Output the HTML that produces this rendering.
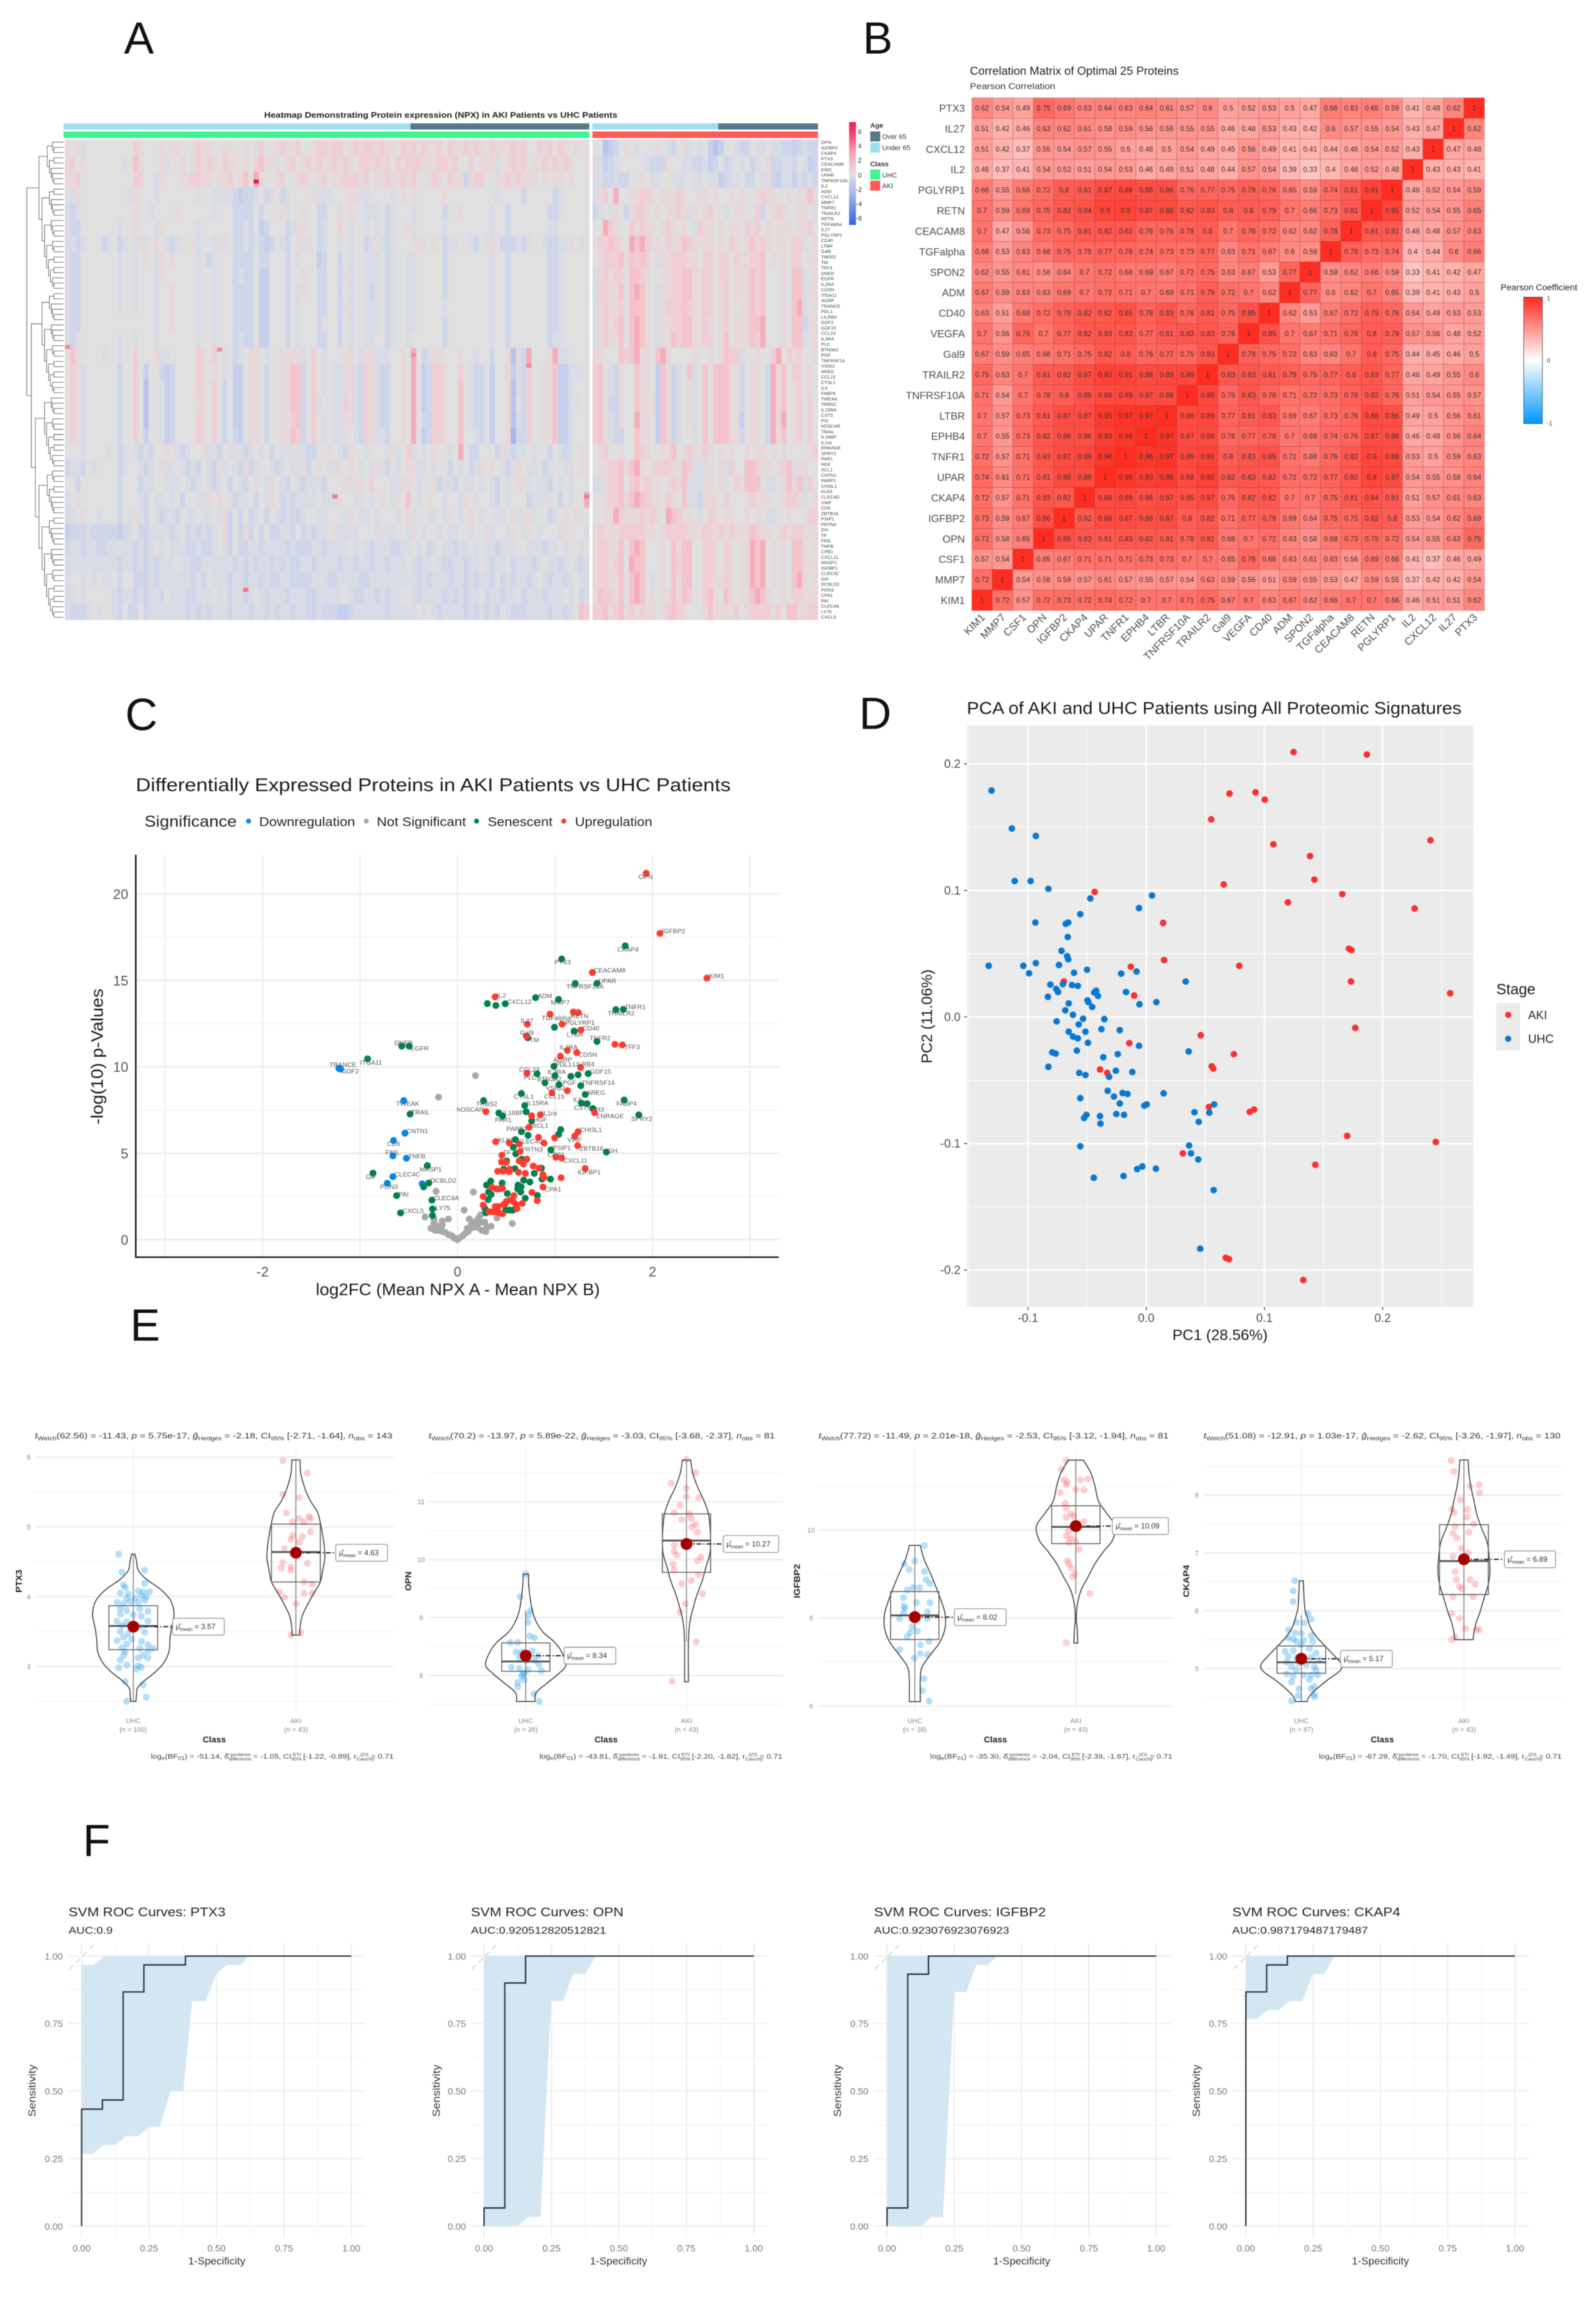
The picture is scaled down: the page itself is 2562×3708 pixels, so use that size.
<!DOCTYPE html>
<html lang="en">
<head>
<meta charset="utf-8">
<title>AKI vs UHC proteomics figure</title>
<style>
html,body{margin:0;padding:0;background:#fff}
svg{display:block;filter:blur(.9px)}
text{font-family:"Liberation Sans",sans-serif}
</style>
</head>
<body>
<svg id="figure" xmlns="http://www.w3.org/2000/svg" width="2562" height="3708" viewBox="0 0 2562 3708">
<defs>
<linearGradient id="heatGrad" x1="0" y1="0" x2="0" y2="1">
<stop offset="0" stop-color="#ee1a50"/><stop offset=".12" stop-color="#f2476f"/><stop offset=".3" stop-color="#f8a3b3"/><stop offset=".51" stop-color="#e0e0e0"/><stop offset=".72" stop-color="#9db0e8"/><stop offset="1" stop-color="#2f62e8"/>
</linearGradient>
<linearGradient id="corrGrad" x1="0" y1="0" x2="0" y2="1">
<stop offset="0" stop-color="#ff2a1f"/><stop offset=".5" stop-color="#ffffff"/><stop offset="1" stop-color="#0097ff"/>
</linearGradient>
</defs>
<rect x="0" y="0" width="2562" height="3708" fill="#fff"/>

<g font-size="72" fill="#111">
<text x="199" y="86">A</text>
<text x="1385" y="86">B</text>
<text x="201" y="1172">C</text>
<text x="1379" y="1170">D</text>
<text x="209" y="2152">E</text>
<text x="133" y="2979">F</text>
</g>

<g id="panelA">
<text x="424" y="189" font-size="13" font-weight="bold" fill="#222" textLength="567" lengthAdjust="spacingAndGlyphs">Heatmap Demonstrating Protein expression (NPX) in AKI Patients vs UHC Patients</text>
<rect x="102" y="198" width="557" height="10" fill="#9fe0ef"/>
<rect x="659" y="198" width="287" height="10" fill="#557a85"/>
<rect x="951" y="198" width="202" height="10" fill="#9fe0ef"/>
<rect x="1153" y="198" width="160" height="10" fill="#557a85"/>
<rect x="102" y="211" width="844" height="10.5" fill="#40f58f"/>
<rect x="951" y="211" width="362" height="10.5" fill="#ff5a55"/>
<rect x="1363" y="196" width="11" height="165" fill="url(#heatGrad)"/>
<g font-size="11" fill="#333">
<text x="1377" y="215">6</text>
<text x="1377" y="238">4</text>
<text x="1377" y="261">2</text>
<text x="1377" y="285">0</text>
<text x="1374" y="308">-2</text>
<text x="1374" y="331">-4</text>
<text x="1374" y="354">-6</text>
</g>
<g font-size="11" fill="#333">
<text x="1397" y="205" font-weight="bold">Age</text>
<rect x="1397" y="211" width="16" height="16" fill="#557a85"/>
<text x="1416" y="223">Over 65</text>
<rect x="1397" y="229" width="16" height="16" fill="#9fe0ef"/>
<text x="1416" y="241">Under 65</text>
<text x="1397" y="267" font-weight="bold">Class</text>
<rect x="1397" y="272" width="16" height="16" fill="#40f58f"/>
<text x="1416" y="285">UHC</text>
<rect x="1397" y="290" width="16" height="16" fill="#ff5a55"/>
<text x="1416" y="302">AKI</text>
</g>
</g>

<g id="panelB">
<text x="1557" y="120" font-size="18" fill="#222" textLength="335" lengthAdjust="spacingAndGlyphs">Correlation Matrix of Optimal 25 Proteins</text>
<text x="1557" y="143" font-size="14" fill="#333" textLength="137" lengthAdjust="spacingAndGlyphs">Pearson Correlation</text>
<text x="2409" y="466" font-size="14" fill="#222" textLength="123" lengthAdjust="spacingAndGlyphs">Pearson Coefficient</text>
<rect x="2446" y="477" width="30" height="203" fill="url(#corrGrad)" stroke="#555" stroke-width="1"/>
<text x="2483" y="482" font-size="10" fill="#333">1</text>
<text x="2483" y="582" font-size="10" fill="#333">0</text>
<text x="2483" y="683" font-size="10" fill="#333">-1</text>
</g>

<g id="panelC">
<text x="218" y="1270" font-size="30" fill="#1a1a1a" textLength="955" lengthAdjust="spacingAndGlyphs">Differentially Expressed Proteins in AKI Patients vs UHC Patients</text>
<g fill="#222">
<text x="232" y="1327" font-size="25" textLength="148" lengthAdjust="spacingAndGlyphs">Significance</text>
<circle cx="399" cy="1318" r="4" fill="#0088ee"/>
<text x="416" y="1326" font-size="20" textLength="154" lengthAdjust="spacingAndGlyphs">Downregulation</text>
<circle cx="588" cy="1318" r="4" fill="#a8a8a8"/>
<text x="605" y="1326" font-size="20" textLength="143" lengthAdjust="spacingAndGlyphs">Not Significant</text>
<circle cx="765" cy="1318" r="4" fill="#00804c"/>
<text x="783" y="1326" font-size="20" textLength="104" lengthAdjust="spacingAndGlyphs">Senescent</text>
<circle cx="905" cy="1318" r="4" fill="#ff3b30"/>
<text x="923" y="1326" font-size="20" textLength="124" lengthAdjust="spacingAndGlyphs">Upregulation</text>
</g>
<text x="507" y="2079" font-size="27" fill="#1a1a1a" textLength="456" lengthAdjust="spacingAndGlyphs">log2FC (Mean NPX A - Mean NPX B)</text>
<text transform="translate(165 1805) rotate(-90)" font-size="27" fill="#1a1a1a" textLength="218" lengthAdjust="spacingAndGlyphs">-log(10) p-Values</text>
</g>

<g id="panelD">
<text x="1552" y="1146" font-size="28" fill="#1a1a1a" textLength="794" lengthAdjust="spacingAndGlyphs">PCA of AKI and UHC Patients using All Proteomic Signatures</text>
<text x="1882" y="2151" font-size="24" fill="#1a1a1a" textLength="153" lengthAdjust="spacingAndGlyphs">PC1 (28.56%)</text>
<text transform="translate(1496 1707) rotate(-90)" font-size="24" fill="#1a1a1a" textLength="151" lengthAdjust="spacingAndGlyphs">PC2 (11.06%)</text>
<text x="2402" y="1596" font-size="24" fill="#1a1a1a">Stage</text>
<rect x="2402" y="1610" width="38" height="76" fill="#ebebeb"/>
<circle cx="2421" cy="1629" r="5" fill="#fb2f2f"/>
<circle cx="2421" cy="1667.5" r="5" fill="#0a78d0"/>
<text x="2453" y="1636" font-size="19" fill="#222">AKI</text>
<text x="2453" y="1674" font-size="19" fill="#222">UHC</text>
</g>

<g id="panelE" fill="#333">
<text x="56" y="2309" font-size="13" textLength="574" lengthAdjust="spacingAndGlyphs"><tspan font-style="italic">t</tspan><tspan dy="3" font-size="9">Welch</tspan><tspan dy="-3">(62.56) = -11.43, </tspan><tspan font-style="italic">p</tspan> = 5.75e-17, <tspan font-style="italic">g&#770;</tspan><tspan dy="3" font-size="9">Hedges</tspan><tspan dy="-3"> = -2.18, CI</tspan><tspan dy="3" font-size="9">95%</tspan><tspan dy="-3"> [-2.71, -1.64], </tspan><tspan font-style="italic">n</tspan><tspan dy="3" font-size="9">obs</tspan><tspan dy="-3"> = 143</tspan></text>
<text x="688" y="2309" font-size="13" textLength="556" lengthAdjust="spacingAndGlyphs"><tspan font-style="italic">t</tspan><tspan dy="3" font-size="9">Welch</tspan><tspan dy="-3">(70.2) = -13.97, </tspan><tspan font-style="italic">p</tspan> = 5.89e-22, <tspan font-style="italic">g&#770;</tspan><tspan dy="3" font-size="9">Hedges</tspan><tspan dy="-3"> = -3.03, CI</tspan><tspan dy="3" font-size="9">95%</tspan><tspan dy="-3"> [-3.68, -2.37], </tspan><tspan font-style="italic">n</tspan><tspan dy="3" font-size="9">obs</tspan><tspan dy="-3"> = 81</tspan></text>
<text x="1314" y="2309" font-size="13" textLength="562" lengthAdjust="spacingAndGlyphs"><tspan font-style="italic">t</tspan><tspan dy="3" font-size="9">Welch</tspan><tspan dy="-3">(77.72) = -11.49, </tspan><tspan font-style="italic">p</tspan> = 2.01e-18, <tspan font-style="italic">g&#770;</tspan><tspan dy="3" font-size="9">Hedges</tspan><tspan dy="-3"> = -2.53, CI</tspan><tspan dy="3" font-size="9">95%</tspan><tspan dy="-3"> [-3.12, -1.94], </tspan><tspan font-style="italic">n</tspan><tspan dy="3" font-size="9">obs</tspan><tspan dy="-3"> = 81</tspan></text>
<text x="1932" y="2309" font-size="13" textLength="573" lengthAdjust="spacingAndGlyphs"><tspan font-style="italic">t</tspan><tspan dy="3" font-size="9">Welch</tspan><tspan dy="-3">(51.08) = -12.91, </tspan><tspan font-style="italic">p</tspan> = 1.03e-17, <tspan font-style="italic">g&#770;</tspan><tspan dy="3" font-size="9">Hedges</tspan><tspan dy="-3"> = -2.62, CI</tspan><tspan dy="3" font-size="9">95%</tspan><tspan dy="-3"> [-3.26, -1.97], </tspan><tspan font-style="italic">n</tspan><tspan dy="3" font-size="9">obs</tspan><tspan dy="-3"> = 130</tspan></text>
<text x="242" y="2823" font-size="11" fill="#444" textLength="390" lengthAdjust="spacingAndGlyphs">log<tspan dy="2" font-size="8">e</tspan><tspan dy="-2">(BF</tspan><tspan dy="2" font-size="8">01</tspan><tspan dy="-2">) = -51.14, &#948;&#770;</tspan><tspan dy="3" font-size="7">difference</tspan><tspan dy="-7" dx="-28" font-size="7">posterior</tspan><tspan dy="4"> = -1.05, CI</tspan><tspan dy="3" font-size="7">95%</tspan><tspan dy="-7" dx="-12" font-size="7">ETI</tspan><tspan dy="4"> [-1.22, -0.89], r</tspan><tspan dy="3" font-size="7">Cauchy</tspan><tspan dy="-7" dx="-20" font-size="7">JZS</tspan><tspan dy="4"> = 0.71</tspan></text>
<text x="866" y="2823" font-size="11" fill="#444" textLength="390" lengthAdjust="spacingAndGlyphs">log<tspan dy="2" font-size="8">e</tspan><tspan dy="-2">(BF</tspan><tspan dy="2" font-size="8">01</tspan><tspan dy="-2">) = -43.81, &#948;&#770;</tspan><tspan dy="3" font-size="7">difference</tspan><tspan dy="-7" dx="-28" font-size="7">posterior</tspan><tspan dy="4"> = -1.91, CI</tspan><tspan dy="3" font-size="7">95%</tspan><tspan dy="-7" dx="-12" font-size="7">ETI</tspan><tspan dy="4"> [-2.20, -1.62], r</tspan><tspan dy="3" font-size="7">Cauchy</tspan><tspan dy="-7" dx="-20" font-size="7">JZS</tspan><tspan dy="4"> = 0.71</tspan></text>
<text x="1493" y="2823" font-size="11" fill="#444" textLength="389" lengthAdjust="spacingAndGlyphs">log<tspan dy="2" font-size="8">e</tspan><tspan dy="-2">(BF</tspan><tspan dy="2" font-size="8">01</tspan><tspan dy="-2">) = -35.30, &#948;&#770;</tspan><tspan dy="3" font-size="7">difference</tspan><tspan dy="-7" dx="-28" font-size="7">posterior</tspan><tspan dy="4"> = -2.04, CI</tspan><tspan dy="3" font-size="7">95%</tspan><tspan dy="-7" dx="-12" font-size="7">ETI</tspan><tspan dy="4"> [-2.39, -1.67], r</tspan><tspan dy="3" font-size="7">Cauchy</tspan><tspan dy="-7" dx="-20" font-size="7">JZS</tspan><tspan dy="4"> = 0.71</tspan></text>
<text x="2117" y="2823" font-size="11" fill="#444" textLength="390" lengthAdjust="spacingAndGlyphs">log<tspan dy="2" font-size="8">e</tspan><tspan dy="-2">(BF</tspan><tspan dy="2" font-size="8">01</tspan><tspan dy="-2">) = -67.29, &#948;&#770;</tspan><tspan dy="3" font-size="7">difference</tspan><tspan dy="-7" dx="-28" font-size="7">posterior</tspan><tspan dy="4"> = -1.70, CI</tspan><tspan dy="3" font-size="7">95%</tspan><tspan dy="-7" dx="-12" font-size="7">ETI</tspan><tspan dy="4"> [-1.92, -1.49], r</tspan><tspan dy="3" font-size="7">Cauchy</tspan><tspan dy="-7" dx="-20" font-size="7">JZS</tspan><tspan dy="4"> = 0.71</tspan></text>
</g>

<g id="panelF"></g>
</svg>

<script>
/* ---------- Panel A: heatmap, coarse-grained into 30 row bands ---------- */
const heatLevels = [-2.2,-1.6,-1.1,-0.7,-0.3,0,0.35,0.7,1.15,1.9];
const heatmapUhcRows = [
"6564555555 5557655565 6655676655 6655654755 6766755677 6775676776 7665767676 6757667676 5766676755 7675765655",
"6756555555 5458655564 5565676765 7665657866 4567567676 6767657767 6757677766 6776755756 6645676756 6767676556",
"6675555555 5557755465 5566776656 6756859655 6755676567 5667776756 6766767556 7657663677 5566767666 5656656555",
"5465555555 5546555455 5555545544 4432334536 5345555644 4555664455 5545656555 5565555555 5545555355 5553455555",
"4345555555 5556554555 5655555545 5533335355 5645565533 5545655444 5345554555 5535565555 5455355555 5533455555",
"4335555555 4556555465 5555545555 5533435235 5534665534 5575455454 5345564555 5545555555 5455355555 5544555555",
"4434555345 3454645654 3455645546 4533434323 5435646534 5545455346 4345556645 6534455435 4653334345 5433446545",
"4335555555 4554565465 6555545345 5533335335 5535455523 5535455444 5345544555 5535555555 5455355555 5533455555",
"4335555555 4554555465 5555545545 5534335225 5535565533 5536455444 5345544555 5535555555 5455355555 5533455555",
"4335555555 4554555455 6555545545 5533335225 5535465533 5535455434 5345544555 5535555555 5455355555 5533455555",
"4335555555 4554555455 6555545545 5533335225 5535455533 5536455444 5345544555 5545555555 5455355555 5533455555",
"4335555555 5555555455 6555545545 5533335225 5535455536 5535455444 5345544555 5535555555 5455355555 5533455555",
"4345555555 4554555455 5555545545 5534335225 5535455533 5535455445 5345545555 5535555555 5455355555 5534455555",
"5865555455 4557555644 5555576575 4534566545 5666645754 5556654664 4455659534 6655565545 5355616395 5569445555",
"5764555555 3557525532 3555576565 4522566535 5668835754 5446643764 3355659523 7765575433 5255624375 5668224445",
"5764555555 3557515542 3555576575 3522566535 5668835754 5446643764 3355659523 7765585433 5255614375 5668224555",
"5764555555 3557515542 3555566575 3522566535 5668835745 5447643764 3355659523 7765585433 5255615375 5668224455",
"5764555555 3557515542 3555576575 3522566535 5667835754 5446643764 3355659533 7765585433 5255614375 5668224555",
"5764555555 3557525542 3555576575 3532566535 5668735754 5446543764 4355659523 7765585543 5255603375 5668224555",
"5554555545 3454343556 5434556443 5464345453 5446443355 6543655455 5464574545 6554595335 5536434454 5535434565",
"3443545555 3455434564 4543435436 4543634554 3454463565 4465654546 4354566445 4553545346 5654346544 5345546565",
"5535555555 3555344554 4454345434 5354356546 5435434443 5556466575 5544665455 6344354454 5435456645 4435454555",
"4565555555 3555435445 4535544656 5634453546 5343444454 4465544545 6546585456 5545546545 5435455534 4645354559",
"4456554555 3546435434 4354454454 6353534535 4343345544 5554654454 5554564554 4546545654 5544564664 5534565645",
"2333433333 2345334444 3453434345 6353635353 3443534344 5644445554 6445546545 5454455455 6455465465 4555465554",
"3443443344 4443434545 4443343345 4353344344 4434333443 4444545434 4433445453 4544344545 4434445544 4344545545",
"4444444444 3443434344 4544334444 4434343443 4343344344 4434434434 4344454344 5433443445 4344534443 4544345434",
"4554545445 3553334344 4444343544 4344344343 3443333444 3344443344 4444444343 4443443434 4353434434 5434434544",
"4454555554 3443434435 4443344454 5344345434 4434443344 4445433443 4344554344 4434343445 3443445344 4344454534",
"4333454554 3533534444 4443434344 4344434434 3443443343 3322344444 4344444545 4344443434 3435433344 4434434587"
];
const heatmapAkiRows = [
"5512356545 5565435645 4521255433 5445443323 433",
"4423455555 4333655443 3423534545 3456334435 423",
"4433433556 5445544454 4544234453 3544324424 343",
"4675955667 7656667655 6656556565 5676655656 686",
"3454653677 6565667646 5675545665 5735676556 654",
"5597655767 6656765654 7665656657 6756566656 675",
"5778765989 7665766876 6665657656 8676566577 456",
"5677786878 7546677766 5775775766 7785656577 566",
"4676775887 6556677886 6775775666 8785556588 456",
"4776685898 6546677886 6775675666 8785556588 466",
"4676675888 6546777876 6775675566 8785556589 456",
"4676785898 6546677886 6765675666 8895556588 366",
"4676685898 6546687886 6775685666 8795556588 456",
"6655587896 6589655556 5565687745 5655795767 556",
"7854365586 6528634584 5858886635 6653968577 565",
"7854365586 6528634564 5858886635 6653968567 565",
"7853365586 6628634564 5858886635 6653968567 575",
"7854365596 6528634564 5858886625 6653969567 575",
"7864335586 6528634554 5858886635 6653968567 575",
"5675565587 6556685676 6765656556 5665654555 567",
"5667786896 5677766874 4465647558 8766567846 655",
"4467785786 7665676844 4665645768 8854456868 475",
"5567786898 7665765844 3666575556 7666556776 456",
"5566976667 6765987665 4576566556 5654455655 577",
"6766677777 6656777766 6776767666 8766567677 666",
"6776685898 5556586885 5776576566 9895656588 656",
"6776785988 5556587885 5776576566 9895656588 666",
"6776685898 5456586885 5776676566 9895656589 656",
"6877685898 5656686875 5786586566 8986556577 666",
"7786786767 6656787655 5686666756 7777675886 677"
];
const heatHotColumns = [36,34,51,99,0,29,66,88];
const heatHotRows = [15,168,133,133,77,78,80,84];
const heatHotValues = [6,3.6,3.6,3.6,3,3,3,3.2];

/* ---------- Panel B: correlation matrix ---------- */
const corrRowLabels = ["PTX3","IL27","CXCL12","IL2","PGLYRP1","RETN","CEACAM8","TGFalpha","SPON2","ADM","CD40","VEGFA","Gal9","TRAILR2","TNFRSF10A","LTBR","EPHB4","TNFR1","UPAR","CKAP4","IGFBP2","OPN","CSF1","MMP7","KIM1"];
const corrColLabels = ["KIM1","MMP7","CSF1","OPN","IGFBP2","CKAP4","UPAR","TNFR1","EPHB4","LTBR","TNFRSF10A","TRAILR2","Gal9","VEGFA","CD40","ADM","SPON2","TGFalpha","CEACAM8","RETN","PGLYRP1","IL2","CXCL12","IL27","PTX3"];
const corrValues = [
[0.62,0.54,0.49,0.75,0.69,0.63,0.64,0.63,0.64,0.61,0.57,0.6,0.5,0.52,0.53,0.5,0.47,0.66,0.63,0.65,0.59,0.41,0.48,0.62,1],
[0.51,0.42,0.46,0.63,0.62,0.61,0.58,0.59,0.56,0.56,0.55,0.55,0.46,0.48,0.53,0.43,0.42,0.6,0.57,0.55,0.54,0.43,0.47,1,0.62],
[0.51,0.42,0.37,0.55,0.54,0.57,0.55,0.5,0.48,0.5,0.54,0.49,0.45,0.56,0.49,0.41,0.41,0.44,0.48,0.54,0.52,0.43,1,0.47,0.48],
[0.46,0.37,0.41,0.54,0.53,0.51,0.54,0.53,0.46,0.49,0.51,0.48,0.44,0.57,0.54,0.39,0.33,0.4,0.48,0.52,0.48,1,0.43,0.43,0.41],
[0.66,0.55,0.66,0.72,0.8,0.81,0.87,0.88,0.86,0.86,0.76,0.77,0.75,0.79,0.76,0.65,0.59,0.74,0.81,0.91,1,0.48,0.52,0.54,0.59],
[0.7,0.59,0.69,0.75,0.82,0.84,0.9,0.9,0.87,0.88,0.82,0.83,0.8,0.8,0.79,0.7,0.66,0.73,0.81,1,0.91,0.52,0.54,0.55,0.65],
[0.7,0.47,0.56,0.73,0.75,0.81,0.82,0.82,0.76,0.76,0.78,0.8,0.7,0.76,0.72,0.62,0.62,0.78,1,0.81,0.81,0.48,0.48,0.57,0.63],
[0.66,0.53,0.63,0.68,0.75,0.75,0.77,0.76,0.74,0.73,0.73,0.77,0.63,0.71,0.67,0.6,0.59,1,0.78,0.73,0.74,0.4,0.44,0.6,0.66],
[0.62,0.55,0.61,0.58,0.64,0.7,0.72,0.68,0.69,0.67,0.72,0.75,0.63,0.67,0.53,0.77,1,0.59,0.62,0.66,0.59,0.33,0.41,0.42,0.47],
[0.67,0.59,0.63,0.63,0.69,0.7,0.72,0.71,0.7,0.69,0.71,0.79,0.72,0.7,0.62,1,0.77,0.6,0.62,0.7,0.65,0.39,0.41,0.43,0.5],
[0.63,0.51,0.68,0.72,0.78,0.82,0.82,0.85,0.78,0.83,0.76,0.81,0.75,0.85,1,0.62,0.53,0.67,0.72,0.79,0.76,0.54,0.49,0.53,0.53],
[0.7,0.56,0.76,0.7,0.77,0.82,0.83,0.83,0.77,0.81,0.83,0.83,0.78,1,0.85,0.7,0.67,0.71,0.76,0.8,0.79,0.57,0.56,0.48,0.52],
[0.67,0.59,0.65,0.68,0.71,0.75,0.82,0.8,0.76,0.77,0.75,0.83,1,0.78,0.75,0.72,0.63,0.63,0.7,0.8,0.75,0.44,0.45,0.46,0.5],
[0.75,0.63,0.7,0.81,0.82,0.87,0.92,0.91,0.88,0.89,0.89,1,0.83,0.83,0.81,0.79,0.75,0.77,0.8,0.83,0.77,0.48,0.49,0.55,0.6],
[0.71,0.54,0.7,0.78,0.8,0.85,0.88,0.89,0.87,0.88,1,0.89,0.75,0.83,0.76,0.71,0.72,0.73,0.78,0.82,0.76,0.51,0.54,0.55,0.57],
[0.7,0.57,0.73,0.81,0.87,0.87,0.95,0.97,0.97,1,0.88,0.89,0.77,0.81,0.83,0.69,0.67,0.73,0.76,0.88,0.86,0.49,0.5,0.56,0.61],
[0.7,0.55,0.73,0.82,0.86,0.86,0.93,0.96,1,0.97,0.87,0.88,0.76,0.77,0.78,0.7,0.69,0.74,0.76,0.87,0.86,0.46,0.48,0.56,0.64],
[0.72,0.57,0.71,0.83,0.87,0.89,0.96,1,0.96,0.97,0.89,0.91,0.8,0.83,0.85,0.71,0.68,0.76,0.82,0.9,0.88,0.53,0.5,0.59,0.63],
[0.74,0.61,0.71,0.81,0.88,0.88,1,0.96,0.93,0.95,0.88,0.92,0.82,0.83,0.82,0.72,0.72,0.77,0.82,0.9,0.87,0.54,0.55,0.58,0.64],
[0.72,0.57,0.71,0.83,0.82,1,0.88,0.89,0.86,0.87,0.85,0.87,0.75,0.82,0.82,0.7,0.7,0.75,0.81,0.84,0.81,0.51,0.57,0.61,0.63],
[0.73,0.59,0.67,0.86,1,0.82,0.88,0.87,0.86,0.87,0.8,0.82,0.71,0.77,0.78,0.69,0.64,0.75,0.75,0.82,0.8,0.53,0.54,0.62,0.69],
[0.72,0.58,0.65,1,0.86,0.83,0.81,0.83,0.82,0.81,0.78,0.81,0.68,0.7,0.72,0.63,0.58,0.68,0.73,0.75,0.72,0.54,0.55,0.63,0.75],
[0.57,0.54,1,0.65,0.67,0.71,0.71,0.71,0.73,0.73,0.7,0.7,0.65,0.76,0.68,0.63,0.61,0.63,0.56,0.69,0.66,0.41,0.37,0.46,0.49],
[0.72,1,0.54,0.58,0.59,0.57,0.61,0.57,0.55,0.57,0.54,0.63,0.59,0.56,0.51,0.59,0.55,0.53,0.47,0.59,0.55,0.37,0.42,0.42,0.54],
[1,0.72,0.57,0.72,0.73,0.72,0.74,0.72,0.7,0.7,0.71,0.75,0.67,0.7,0.63,0.67,0.62,0.66,0.7,0.7,0.66,0.46,0.51,0.51,0.62]
];

/* ---------- Panel C: volcano ---------- */
const volcanoUpX = [1.935,2.076,2.558,1.382,.385,.949,1.188,1.239,.715,1.072,1.264,.706,1.615,1.69,1.126,1.222,1.055,1.262,.712,.968,1.126,.291,.849,.76,1.405,.734,1.236,1.203,.83,.996,.391,.53,.632,.887,1.232,.642,1.008,1.068,.455,.451,.497,.71,.632,.674,.776,.834,1.309,.412,.465,.535,.53,.625,.695,.876,.887,1.062,.876,.35,.397,.429,.461,.763,.263,.578,.817,.263,.536,.568,.503,.6,.663,.472,.387,.418,.323,.365,.408,.461,.61,.418];
const volcanoUpY = [21.2,17.72,15.13,15.46,14.05,13.05,13.17,13.14,12.47,12.47,12.13,11.77,11.3,11.27,10.95,10.83,10.62,9.97,9.63,8.5,8.62,7.41,7.23,7.17,7.35,6.51,6.25,6.0,5.92,5.89,5.67,5.59,5.53,5.59,5.44,5.11,4.77,4.72,4.89,4.5,4.47,4.66,4.56,4.38,4.26,4.14,4.12,3.96,3.96,4.08,3.93,3.9,3.84,3.76,3.6,3.58,3.05,3.04,2.94,2.94,2.98,2.73,2.5,2.55,2.26,2.0,2.28,2.22,2.22,2.04,2.1,2.04,1.92,1.92,1.62,1.62,1.62,1.5,1.8,1.56];
const volcanoSenX = [1.72,1.068,1.207,1.43,.8,1.036,.489,.393,.306,1.624,1.7,.994,1.196,.72,1.43,-.572,-.497,.989,.815,1,1.162,1.237,1.34,.896,1.04,1.264,.655,1.309,1.709,.267,1.27,1.328,.689,1.388,.704,.423,.461,1.859,-.487,.76,1.058,1.036,.655,.723,.593,.572,.597,.957,1.526,.504,.657,.861,.589,.472,.787,.866,.953,.678,.742,.34,.457,.297,.62,.652,.617,.648,.319,.51,.344,.819,.694,.314,.483,.493,.536,.568,.28,.29,-.31,-.295,-.348,-.625,-.263,-.257,-.257,-.585,-.867,-.923];
const volcanoSenY = [17,16.24,14.82,14.83,14,13.9,13.65,13.55,13.66,13.31,13.32,12.29,12.07,11.68,11.47,11.2,11.2,10.03,9.6,9.49,9.45,9.54,9.61,9.08,8.97,8.91,8.46,8.4,8.08,8.05,7.9,7.87,7.76,7.59,7.4,7.33,7.15,7.22,7.27,6.87,6.37,6.09,6.25,6.04,5.79,5.35,4.97,5.2,5.07,4.56,4.66,4.14,4.11,4.08,3.84,3.51,3.51,3.45,3.34,3.39,3.28,3.16,3.16,3.06,2.94,2.76,2.76,2.67,2.62,2.56,2.4,2.32,2.04,1.71,1.71,1.71,1.8,1.56,4.29,3.28,3.06,2.55,2.29,1.78,1.4,1.55,3.85,10.46];
const volcanoDownX = [-1.218,-1.2,-.552,-.54,-.657,-.663,-.525,-.663,-.721,-.363];
const volcanoDownY = [9.92,9.87,8.05,6.16,5.74,4.85,4.71,3.65,3.27,3.24];
const volcanoNsX = [.184,-.195,-.22,.163,.067,-.333,.561,.404,0,-.02,-.04,.025,.056,-.06,-.093,.078,-.125,-.157,.11,.131,.1,-.2,-.231,-.274,-.157,-.22,-.242,-.157,-.093,-.242,.12,.163,.142,.184,.205,.237,.216,.248,.28,.3,.344,.248,.29,.163,.205];
const volcanoNsY = [9.49,8.25,2.8,2.76,1.71,1.32,.94,1.26,0,.06,.12,.12,.24,.24,.3,.36,.42,.48,.48,.66,.66,.54,.54,.66,.84,.84,.96,1.08,1.2,1.2,1.2,1.02,.9,.84,1.14,1.44,1.26,1.02,1.02,.72,.78,.54,.48,.72,.72];
const volcanoLabelNames = ["OPN","IGFBP2","CKAP4","PTX3","CEACAM8","KIM1","UPAR","TNFRSF10A","IL2","ADM","CXCL12","MMP7","TNFR1","TRAILR2","RETN","TGFalpha","IL27","PGLYRP1","CD40","LTBR","Gal9","TNFR2","TM","TFF3","DNER","EGFR","IL2RA","CDSN","ITGA11","AGRP","TRANCE","PDL1","LILRB4","GDF2","GDF15","CCL23","IL3RA","PLC","BTN3A2","PGF","TNFRSF14","VSIG2","AREG","CCL15","CTSL1","IL6","FABP4","TWEAK","TRBS2","IL15RA","CST5","PI3","hOSCAR","TRAIL","IL18BP","IL1ra","ENRAGE","SPRY2","PAR1","HGF","XCL1","CNTN1","PARP1","CHI3L1","KLK6","CLEC4D","VWF","CD6","ZBTB16","PSIP1","PRTN3","GH","TF","Flt3L","TNFB","CPB1","CXCL11","MASP1","IGFBP1","CLEC4C","GIF","DCBLD2","PON3","CPA1","PAI","CLEC4A","LY75","CXCL5"];
const volcanoLabelX = [1.93,2.216,1.748,1.078,1.56,2.657,1.537,1.307,.45,.895,.633,1.054,1.823,1.678,1.251,1.012,.712,1.256,1.368,1.204,.712,1.462,.787,1.79,-.553,-.389,1.139,1.336,-.886,1.078,-1.176,1.087,1.293,-1.101,1.467,.736,1.017,.745,.942,1.148,1.443,1.003,1.42,.993,.679,1.23,1.734,-.511,.3,.82,1.28,1.453,.131,-.38,.572,.942,1.565,1.889,.469,.848,.848,-.412,.609,1.368,.497,.745,1.2,-.656,1.373,1.068,.764,1.589,.506,-.665,-.417,1.012,1.209,-.276,1.35,-.515,-.886,-.145,-.703,.979,-.553,-.117,-.15,-.455];
const volcanoLabelY = [21,17.85,16.79,16.05,15.59,15.26,14.97,14.64,14.12,14.1,13.77,13.73,13.46,13.1,12.94,12.82,12.67,12.55,12.24,11.86,11.99,11.66,11.55,11.16,11.39,11.06,11.14,10.7,10.25,10.41,10.12,10.14,10.17,9.75,9.73,9.83,9.71,9.38,9.3,9.09,9.09,8.78,8.51,8.28,8.28,8.1,7.87,7.87,7.85,7.91,7.64,7.54,7.54,7.37,7.33,7.31,7.16,7,6.94,6.96,6.6,6.29,6.42,6.36,5.76,5.69,5.78,5.55,5.28,5.32,5.22,5.16,5.05,5.05,4.82,4.91,4.58,4.08,3.91,3.79,3.64,3.42,3.06,2.92,2.63,2.42,1.84,1.68];
const volcanoXTicks = [-2,0,2];
const volcanoXGrid = [-3,-2,-1,0,1,2,3];
const volcanoYTicks = [0,5,10,15,20];
const volcanoYMinor = [2.5,7.5,12.5,17.5];

/* ---------- Panel D: PCA ---------- */
const pcaAkiPc1 = [.1247,.1867,.0705,.0925,.1003,.055,.1076,.2405,.1386,.1423,.0656,.1659,.1199,.2271,-.0436,.0143,.1716,.1737,.0151,.0787,-.013,.1733,-.0697,.2572,-.0102,.1769,.0461,-.0143,.0742,.0554,.0567,-.0391,-.033,.053,.0876,.0913,.17,.245,.031,.1431,.0673,.0701,.1329];
const pcaAkiPc2 = [.2093,.2073,.1765,.1775,.1717,.1561,.1364,.1396,.1271,.1085,.1047,.0971,.0905,.0857,.0988,.0743,.0539,.0528,.0449,.0404,.0397,.028,.028,.0187,.0169,-.0086,-.0145,-.0207,-.0294,-.039,-.0408,-.0415,-.0442,-.0712,-.075,-.0732,-.094,-.0988,-.1078,-.1168,-.1903,-.1914,-.2079];
const pcaUhcPc1 = [-.1309,-.1137,-.0934,-.1113,-.0978,-.0828,-.0473,.0049,-.0061,-.0558,-.0938,-.0681,-.066,-.0664,-.0717,-.0669,-.066,-.1333,-.104,-.0934,-.0738,-.0991,-.0611,-.0501,-.0212,-.0082,.0334,-.0811,-.0705,-.0628,-.0579,-.0762,-.0746,-.0424,-.044,-.0408,-.0171,-.0832,-.0497,-.0489,-.0656,-.0457,-.0057,.0086,-.0685,-.062,-.0534,-.0355,-.0758,-.0571,-.0656,-.0514,-.0379,-.0224,-.062,-.0579,-.0493,-.0061,-.0587,-.0795,-.0766,.0359,-.0241,-.0363,-.0828,-.0567,-.0514,-.0257,-.0118,-.0314,-.0326,-.02,-.0159,-.0273,.0147,-.0558,-.0224,.0004,-.0016,.0575,.0408,.0534,-.0253,-.0188,-.0506,-.0526,-.0391,-.0387,.0444,-.0558,.0363,.0379,.044,-.0033,-.0077,.0082,-.0444,-.0192,.0571,.0457];
const pcaUhcPc2 = [.1789,.1489,.143,.1074,.1074,.1012,.0936,.096,.086,.0812,.0746,.0736,.0746,.0632,.0522,.048,.0456,.0404,.0404,.0425,.0411,.0345,.0349,.0373,.0342,.0359,.028,.0256,.0259,.0252,.0245,.0221,.0197,.0207,.0193,.0166,.0197,.0159,.0131,.0117,.0107,.0079,.01,.0117,.0052,.0017,-.0014,-.0017,-.0035,-.0059,-.0117,-.0117,-.0097,-.0104,-.0155,-.0169,-.0204,-.0228,-.0266,-.028,-.029,-.0273,-.0294,-.0318,-.0394,-.0442,-.0459,-.0425,-.0435,-.0473,-.0584,-.0601,-.0608,-.0629,-.0604,-.0642,-.0684,-.0691,-.0701,-.0691,-.0753,-.0756,-.0767,-.0774,-.0774,-.0798,-.0784,-.0843,-.0829,-.1022,-.1016,-.1078,-.1126,-.1181,-.1202,-.1199,-.1271,-.1257,-.1368,-.1831];
const pcaXTicks = [-0.1,0,0.1,0.2];
const pcaXMinor = [-0.15,-0.05,0.05,0.15,0.25];
const pcaYTicks = [-0.2,-0.1,0,0.1,0.2];
const pcaYMinor = [-0.15,-0.05,0.05,0.15];

/* ---------- Panel E: violins ---------- */
const ptx3UhcJitter = [-.09,-.07,.07,.07,-.06,-.05,-.08,-.03,.03,.06,.1,.05,.08,-.04,.01,-.1,-.06,-.02,.03,.07,-.08,-.04,.04,.09,-.08,0,.05,-.1,-.04,.09,-.07,.04,-.08,-.03,.07,-.06,-.1,-.01,.05,-.04,.09,-.07,.04,.12,-.05,.09,-.06,.06,.03,-.08,.09,-.04,.03,.05,-.09,.02,-.05,.06,.08,-.04];
const ptx3UhcValues = [4.61,4.35,4.38,4.19,4.17,4.13,4.05,4.04,4.08,4.07,4.07,4.01,4,3.98,3.98,3.92,3.9,3.93,3.92,3.95,3.83,3.8,3.82,3.79,3.75,3.74,3.72,3.65,3.64,3.65,3.59,3.57,3.5,3.47,3.49,3.42,3.37,3.39,3.36,3.32,3.31,3.27,3.26,3.26,3.21,3.22,3.16,3.16,3.12,3.09,3.12,3.02,3.01,2.99,2.98,2.96,2.78,2.74,2.56,2.5];
const ptx3UhcViolinY = [4.61,4.51,4.38,4.25,4.12,3.98,3.85,3.72,3.55,3.39,3.22,3.06,2.93,2.79,2.69,2.6,2.5];
const ptx3UhcDensity = [.01,.02,.03,.08,.16,.22,.245,.25,.235,.225,.22,.19,.14,.065,.025,.02,.016];
const ptx3UhcBox = [3.24,3.58,3.87];
const ptx3UhcWhisker = [2.5,4.6];
const ptx3AkiJitter = [-.08,.07,-.08,.02,-.06,.08,.02,.09,-.02,.05,.09,-.02,.04,-.03,.02,-.07,-.01,.07,-.08,-.09,-.03,-.03,.05,.1,-.1,.05,.1,-.07,0,.03,-.03];
const ptx3AkiValues = [5.95,5.77,5.47,5.42,5.2,5.15,5.12,5.12,5.07,5.07,4.93,4.88,4.86,4.82,4.78,4.69,4.64,4.48,4.49,4.41,4.43,4.38,4.21,4.18,4.07,4.05,4.05,3.99,3.9,3.49,3.45];
const ptx3AkiViolinY = [5.96,5.77,5.54,5.37,5.21,5.04,4.88,4.71,4.55,4.38,4.21,4.05,3.88,3.72,3.55,3.45];
const ptx3AkiDensity = [.025,.03,.057,.09,.133,.152,.165,.175,.178,.165,.15,.11,.07,.038,.025,.025];
const ptx3AkiBox = [4.21,4.64,5.04];
const ptx3AkiWhisker = [3.45,5.95];

const opnUhcJitter = [0,-.035,.03,.016,.013,.026,.055,-.096,-.05,-.06,-.026,.04,.077,-.04,.006,.055,.08,-.09,-.04,.013,.096,-.01,-.02,-.026,-.01,-.05,-.05,.05,.084];
const opnUhcValues = [9.75,9.36,9.12,9.04,8.92,8.68,8.65,8.57,8.57,8.4,8.4,8.42,8.34,8.3,8.26,8.26,8.19,8.14,8.12,8.1,8.08,8.04,8.02,7.98,7.92,7.88,7.8,7.68,7.55];
const opnUhcViolinY = [9.75,9.54,9.3,9.1,8.9,8.74,8.58,8.42,8.18,8.02,7.86,7.7,7.55];
const opnUhcDensity = [.016,.019,.029,.042,.07,.11,.177,.22,.25,.2,.13,.064,.058];
const opnUhcBox = [8.07,8.24,8.56];
const opnUhcWhisker = [7.55,9.12];
const opnAkiJitter = [0,.058,-.096,0,0,.074,-.04,-.077,.02,-.03,.03,.058,.035,.068,-.077,.035,-.077,-.06,.09,.068,-.084,-.077,.074,.03,-.03,.1,-.006,-.04,.06,-.09];
const opnAkiValues = [11.73,11.5,11.32,11.23,11.09,11.07,10.94,10.81,10.79,10.69,10.71,10.61,10.57,10.47,10.25,10.3,10.14,10.08,10.04,9.98,9.92,9.82,9.74,9.64,9.58,9.41,9.24,9.09,8.58,7.9];
const opnAkiViolinY = [11.72,11.49,11.25,11.01,10.81,10.61,10.33,10.1,9.86,9.62,9.38,9.14,8.9,8.58,7.89];
const opnAkiDensity = [.026,.039,.07,.11,.135,.145,.15,.145,.12,.096,.064,.039,.02,.012,.012];
const opnAkiBox = [9.78,10.33,10.79];
const opnAkiWhisker = [8.58,11.72];

const igfbp2UhcJitter = [.06,0,-.066,-.034,.06,.07,.094,.03,-.01,-.047,-.07,.094,.01,-.066,-.063,-.07,.078,-.094,.078,-.016,.016,-.03,-.047,.088,.034,-.094,.034,.078,-.003,.056,.047,.088];
const igfbp2UhcValues = [9.65,9.29,9.23,9.1,9.06,8.87,8.78,8.69,8.69,8.64,8.46,8.35,8.35,8.27,8.22,8.12,8.14,7.98,7.99,7.8,7.7,7.67,7.57,7.47,7.39,7.28,7.19,7.17,7.09,6.62,6.35,6.11];
const igfbp2UhcViolinY = [9.65,9.35,9.04,8.72,8.4,8.09,7.77,7.46,7.15,6.88,6.62,6.36,6.1];
const igfbp2UhcDensity = [.034,.056,.094,.13,.163,.188,.188,.157,.094,.044,.034,.034,.034];
const igfbp2UhcBox = [7.51,8.06,8.6];
const igfbp2UhcWhisker = [6.1,9.65];
const igfbp2AkiJitter = [-.06,-.09,-.075,-.053,.03,.075,-.06,0,.05,-.097,-.066,-.06,-.03,-.013,-.06,.05,-.044,-.06,-.03,0,-.044,.02,-.053,-.044,-.03,-.006,-.02,.088,-.06];
const igfbp2AkiValues = [11.58,11.38,11.14,11.09,11.14,11.16,11.03,10.92,10.91,10.85,10.61,10.5,10.37,10.32,10.29,10.19,9.98,9.87,9.82,9.74,9.72,9.56,9.3,9.23,9.14,9.01,8.93,8.55,7.44];
const igfbp2AkiViolinY = [11.59,11.29,10.98,10.66,10.4,10.08,9.76,9.51,9.24,8.93,8.62,8.3,7.99,7.72,7.43];
const igfbp2AkiDensity = [.047,.094,.12,.14,.188,.245,.226,.172,.12,.075,.031,.009,.003,.009,.012];
const igfbp2AkiBox = [9.69,10.07,10.55];
const igfbp2AkiWhisker = [8.55,11.59];

const ckap4UhcJitter = [-.04,-.05,-.05,.04,.06,-.03,.015,-.08,-.04,0,.06,-.08,-.05,-.03,.015,.07,0,-.1,-.05,.05,.09,-.08,-.03,.06,.11,-.09,-.015,.03,-.06,.08,-.03,.09,-.09,-.05,.015,.06,.1,-.06,.05,-.015,.08,.06,.08,.08,-.02,-.06];
const ckap4UhcValues = [6.52,6.34,6.16,5.95,5.86,5.8,5.79,5.67,5.62,5.61,5.57,5.53,5.51,5.47,5.49,5.47,5.41,5.3,5.31,5.35,5.27,5.21,5.19,5.19,5.15,5.11,5.09,5.07,5.03,5.03,4.97,4.97,4.91,4.87,4.89,4.89,4.89,4.77,4.81,4.65,4.69,4.65,4.55,4.51,4.53,4.44];
const ckap4UhcViolinY = [6.52,6.26,6.03,5.87,5.71,5.55,5.39,5.23,5.07,4.95,4.79,4.63,4.51,4.43];
const ckap4UhcDensity = [.012,.016,.022,.037,.056,.093,.146,.2,.248,.233,.155,.087,.047,.037];
const ckap4UhcBox = [4.92,5.11,5.39];
const ckap4UhcWhisker = [4.43,5.93];
const ckap4AkiJitter = [-.078,-.062,.093,.037,.096,-.022,-.075,.022,-.06,.02,.06,-.053,-.068,-.043,.03,-.016,.025,-.068,-.053,.037,-.047,.07,-.028,-.012,-.068,.056,-.075,-.028,.01,.078,.093,-.053,-.075];
const ckap4AkiValues = [8.6,8.41,8.18,8.15,8.04,7.92,7.76,7.75,7.7,7.62,7.5,7.46,7.34,7.26,7.36,7.08,7,6.94,6.68,6.54,6.54,6.46,6.42,6.38,6.24,6.24,5.95,5.87,5.69,5.67,5.67,5.55,5.5];
const ckap4AkiViolinY = [8.61,8.38,8.14,7.9,7.66,7.42,7.18,6.94,6.7,6.46,6.22,5.99,5.79,5.63,5.5];
const ckap4AkiDensity = [.025,.031,.043,.062,.08,.11,.143,.155,.16,.15,.124,.1,.075,.062,.056];
const ckap4AkiBox = [6.28,6.86,7.49];
const ckap4AkiWhisker = [5.5,8.61];

const ptx3Ticks = [3,4,5,6];
const ptx3Minor = [2.5,3.5,4.5,5.5];
const opnTicks = [8,9,10,11];
const opnMinor = [7.5,8.5,9.5,10.5,11.5];
const igfbp2Ticks = [6,8,10];
const igfbp2Minor = [7,9,11];
const ckap4Ticks = [5,6,7,8];
const ckap4Minor = [4.5,5.5,6.5,7.5,8.5];
const violinMeans = [[3.57,4.63],[8.34,10.27],[8.02,10.09],[5.17,6.89]];
const violinCategories = ["UHC","AKI"];
const violinCounts = [[100,43],[38,43],[38,43],[87,43]];

/* ---------- Panel F: ROC ---------- */
const rocTicks = [0,0.25,0.5,0.75,1];
const rocMinor = [0.125,0.375,0.625,0.875];
const ptx3RocFpr = [0,0,.077,.077,.154,.154,.231,.231,.385,.385,1];
const ptx3RocTpr = [0,.433,.433,.467,.467,.867,.867,.967,.967,1,1];
const ptx3BandLowX = [0,.04,.08,.125,.165,.21,.25,.29,.33,.377,.41,.46,.5,.537,.59,.62];
const ptx3BandLow = [.267,.267,.3,.3,.333,.333,.367,.367,.5,.5,.833,.833,.933,.967,.967,1];
const ptx3BandUpX = [0,.045,.085,.62];
const ptx3BandUp = [.967,.967,1,1];
const opnRocFpr = [0,0,.077,.077,.154,.154,1];
const opnRocTpr = [0,.067,.067,.9,.9,1,1];
const opnBandLowX = [0,.126,.163,.209,.249,.293,.331,.375,.414];
const opnBandLow = [0,0,.034,.034,.833,.833,.933,.933,1];
const opnBandUpX = [0,.414];
const opnBandUp = [1,1];
const igfbp2RocFpr = [0,0,.077,.077,.154,.154,1];
const igfbp2RocTpr = [0,.067,.067,.933,.933,1,1];
const igfbp2BandLowX = [0,.126,.165,.208,.25,.295,.332,.375,.409];
const igfbp2BandLow = [0,0,.033,.033,.867,.867,.967,.967,1];
const igfbp2BandUpX = [0,.409];
const igfbp2BandUp = [1,1];
const ckap4RocFpr = [0,0,.077,.077,.154,.154,1];
const ckap4RocTpr = [0,.867,.867,.967,.967,1,1];
const ckap4BandLowX = [0,.041,.08,.122,.163,.21,.248,.291,.328];
const ckap4BandLow = [.767,.767,.8,.8,.833,.833,.933,.933,1];
const ckap4BandUpX = [0,.328];
const ckap4BandUp = [1,1];

/* ---------- helpers ---------- */
const NS = 'http://www.w3.org/2000/svg';
function make(parent, tag, attrs, text) {
  const e = document.createElementNS(NS, tag);
  for (const k in attrs) e.setAttribute(k, attrs[k]);
  if (text !== undefined) e.textContent = text;
  parent.appendChild(e);
  return e;
}
function hex2rgb(h){return [parseInt(h.slice(1,3),16),parseInt(h.slice(3,5),16),parseInt(h.slice(5,7),16)];}
function ramp(stops, v){
  for (let i=1;i<stops.length;i++){
    if (v<=stops[i][0]){
      const t=(v-stops[i-1][0])/(stops[i][0]-stops[i-1][0]);
      const a=hex2rgb(stops[i-1][1]), b=hex2rgb(stops[i][1]);
      return 'rgb('+a.map((c,j)=>Math.round(c+(b[j]-c)*t)).join(',')+')';
    }
  }
  return stops[stops.length-1][1];
}
const heatStops = [[-6,'#3f6be8'],[-3,'#8fa4e6'],[-1,'#c9d2ee'],[0,'#e0e0e0'],[1,'#f5c8d0'],[3,'#f88aa0'],[6,'#ee1a50']];

/* ---------- draw panel A ---------- */
(function(){
  const g = document.getElementById('panelA');
  const top = 224, bandH = 771/30, cw = 8.42;
  function drawBlock(rows, left){
    rows.forEach(function(raw, r){
      const row = raw.replace(/ /g,'');
      for (let c=0;c<row.length;c++){
        const v = heatLevels[+row.charAt(c)];
        const cell = make(g,'rect',{x:left+c*cw,y:top+r*bandH,width:cw+.4,height:bandH+.4,fill:ramp(heatStops,v)});
        
        
      }
    });
  }
  drawBlock(heatmapUhcRows,104);
  drawBlock(heatmapAkiRows,951);
  heatHotColumns.forEach(function(c,i){
    const hot = make(g,'rect',{x:104+c*cw,y:top+heatHotRows[i]*771/180,width:cw,height:771/180*1.5,fill:ramp(heatStops,heatHotValues[i])});
    
    
  });
  /* row labels */
  const step = 771/volcanoLabelNames.length;
  volcanoLabelNames.forEach(function(name,i){
    const t = make(g,'text',{x:1318,y:224+(i+.8)*step,'font-size':7.5,fill:'#444'},name);
    
    
  });
  /* dendrogram */
  const N = 92, gap = 771/N;
  function h(n){return n<=1?0:59*Math.pow(n/N,.35);}
  function tree(a,b){
    const n=b-a;
    if (n===1) return {y:224+(a+.5)*gap,x:102};
    const m = a+Math.max(1,Math.round(n*.32));
    const p=tree(a,m), q=tree(m,b), x=102-h(n);
    const d='M'+p.x+' '+p.y+'H'+x+'V'+q.y+'H'+q.x;
    const br = make(g,'path',{d:d,fill:'none',stroke:'#555','stroke-width':.9});
    
    
    return {x:x,y:(p.y+q.y)/2};
  }
  tree(0,N);
})();

/* ---------- draw panel B ---------- */
(function(){
  const g = document.getElementById('panelB');
  const left=1560, top=157, size=32.92;
  function cellColor(v){
    const t=Math.pow(Math.max(0,Math.min(1,v)),1.15);
    return 'rgb(255,'+Math.round(255-t*210)+','+Math.round(255-t*222)+')';
  }
  corrValues.forEach(function(row,r){
    const lab = make(g,'text',{x:1549,y:top+(r+.5)*size+6,'text-anchor':'end','font-size':16.6,fill:'#4d4d4d'},corrRowLabels[r]);
    
    
    row.forEach(function(v,c){
      const cell = make(g,'rect',{x:left+c*size,y:top+r*size,width:size,height:size,fill:cellColor(v),stroke:'rgba(110,50,45,.35)','stroke-width':.8});
      
      
      const t = make(g,'text',{x:left+(c+.5)*size,y:top+(r+.5)*size+4,'text-anchor':'middle','font-size':11.5,fill:'#333'},String(v));
      
      
    });
  });
  corrColLabels.forEach(function(name,c){
    const cx=left+(c+.5)*size+6, y=992;
    const t = make(g,'text',{x:cx,y:y,'text-anchor':'end','font-size':17,fill:'#4d4d4d',transform:'rotate(-45 '+cx+' '+y+')'},name);
    
    
  });
})();

/* ---------- draw panel C ---------- */
(function(){
  const g = document.getElementById('panelC');
  function X(v){return 734.5+156.5*v;}
  function Y(v){return 1990-27.75*v;}
  volcanoYMinor.forEach(function(v){
    const l = make(g,'line',{x1:218,x2:1250,y1:Y(v),y2:Y(v),stroke:'#f2f2f2','stroke-width':1.6});
    
    
  });
  volcanoYTicks.forEach(function(v){
    const l = make(g,'line',{x1:218,x2:1250,y1:Y(v),y2:Y(v),stroke:'#ebebeb','stroke-width':2.8});
    
    
    const t = make(g,'text',{x:206,y:Y(v)+8,'text-anchor':'end','font-size':22,fill:'#555'},String(v));
    
    
  });
  volcanoXGrid.forEach(function(v){
    const l = make(g,'line',{x1:X(v),x2:X(v),y1:1372,y2:2018,stroke:'#ededed','stroke-width':2});
    
    
  });
  volcanoXTicks.forEach(function(v){
    const t = make(g,'text',{x:X(v),y:2049,'text-anchor':'middle','font-size':22,fill:'#555'},String(v));
    
    
  });
  const spine = make(g,'path',{d:'M218 1372V2018H1250',fill:'none',stroke:'#222','stroke-width':2.6});
  
  
  volcanoNsX.forEach(function(x,i){
    const c = make(g,'circle',{cx:X(x),cy:Y(volcanoNsY[i]),r:5.5,fill:'#a8a8a8'});
    
    
  });
  volcanoDownX.forEach(function(x,i){
    const c = make(g,'circle',{cx:X(x),cy:Y(volcanoDownY[i]),r:5.5,fill:'#0088ee'});
    
    
  });
  volcanoSenX.forEach(function(x,i){
    const c = make(g,'circle',{cx:X(x),cy:Y(volcanoSenY[i]),r:5.5,fill:'#00804c'});
    
    
  });
  volcanoUpX.forEach(function(x,i){
    const c = make(g,'circle',{cx:X(x),cy:Y(volcanoUpY[i]),r:5.5,fill:'#ff3b30'});
    
    
  });
  volcanoLabelNames.forEach(function(name,i){
    const t = make(g,'text',{x:X(volcanoLabelX[i]),y:Y(volcanoLabelY[i])+3.5,'text-anchor':'middle','font-size':10.5,fill:'#555'},name);
    
    
  });
})();

/* ---------- draw panel D ---------- */
(function(){
  const g = document.getElementById('panelD');
  function X(v){return 1840+1897*v;}
  function Y(v){return 1632.4-2031.5*v;}
  const L=1552.5,R=2365,T=1164.5,B=2098;
  const bg = make(g,'rect',{x:L,y:T,width:R-L,height:B-T,fill:'#ebebeb'});
  
  
  pcaYMinor.forEach(function(v){
    const l = make(g,'line',{x1:L,x2:R,y1:Y(v),y2:Y(v),stroke:'#fff','stroke-width':1.1});
    
    
  });
  pcaXMinor.forEach(function(v){
    const l = make(g,'line',{x1:X(v),x2:X(v),y1:T,y2:B,stroke:'#fff','stroke-width':1.1});
    
    
  });
  pcaYTicks.forEach(function(v){
    const l = make(g,'line',{x1:L,x2:R,y1:Y(v),y2:Y(v),stroke:'#fff','stroke-width':2.4});
    
    
    const m = make(g,'line',{x1:L-5,x2:L,y1:Y(v),y2:Y(v),stroke:'#444','stroke-width':1.4});
    
    
    const t = make(g,'text',{x:1542,y:Y(v)+6.5,'text-anchor':'end','font-size':19,fill:'#4d4d4d'},v.toFixed(1));
    
    
  });
  pcaXTicks.forEach(function(v){
    const l = make(g,'line',{x1:X(v),x2:X(v),y1:T,y2:B,stroke:'#fff','stroke-width':2.4});
    
    
    const m = make(g,'line',{x1:X(v),x2:X(v),y1:B,y2:B+5,stroke:'#444','stroke-width':1.4});
    
    
    const t = make(g,'text',{x:X(v),y:2122,'text-anchor':'middle','font-size':19,fill:'#4d4d4d'},v.toFixed(1));
    
    
  });
  pcaAkiPc1.forEach(function(x,i){
    const c = make(g,'circle',{cx:X(x),cy:Y(pcaAkiPc2[i]),r:5.3,fill:'#fb2f2f'});
    
    
  });
  pcaUhcPc1.forEach(function(x,i){
    const c = make(g,'circle',{cx:X(x),cy:Y(pcaUhcPc2[i]),r:5.3,fill:'#0a78d0'});
    
    
  });
})();

/* ---------- draw panel E ---------- */
function smooth(pts){
  let d='M'+pts[0][0]+' '+pts[0][1];
  for(let i=0;i<pts.length-1;i++){
    const p0=pts[Math.max(0,i-1)],p1=pts[i],p2=pts[i+1],p3=pts[Math.min(pts.length-1,i+2)];
    d+='C'+(p1[0]+(p2[0]-p0[0])/6)+' '+(p1[1]+(p2[1]-p0[1])/6)+' '+(p2[0]-(p3[0]-p1[0])/6)+' '+(p2[1]-(p3[1]-p1[1])/6)+' '+p2[0]+' '+p2[1];
  }
  return d;
}
const violinPlots = [
 {title:'PTX3',titleLen:37,v0:6,y0:2339,k:112,cats:[214,475],gridL:56,gridR:632,tickX:46,yTitleX:35,classX:344,ticks:ptx3Ticks,minor:ptx3Minor,labelDx:[63,64],labelW:[83,83],
  groups:[{j:ptx3UhcJitter,v:ptx3UhcValues,vy:ptx3UhcViolinY,d:ptx3UhcDensity,box:ptx3UhcBox,w:ptx3UhcWhisker},{j:ptx3AkiJitter,v:ptx3AkiValues,vy:ptx3AkiViolinY,d:ptx3AkiDensity,box:ptx3AkiBox,w:ptx3AkiWhisker}]},
 {title:'OPN',titleLen:31,v0:11,y0:2410.6,k:92.9,cats:[844,1102],gridL:687,gridR:1257,tickX:676,yTitleX:660,classX:973,ticks:opnTicks,minor:opnMinor,labelDx:[61.5,59],labelW:[83,89],
  groups:[{j:opnUhcJitter,v:opnUhcValues,vy:opnUhcViolinY,d:opnUhcDensity,box:opnUhcBox,w:opnUhcWhisker},{j:opnAkiJitter,v:opnAkiValues,vy:opnAkiViolinY,d:opnAkiDensity,box:opnAkiBox,w:opnAkiWhisker}]},
 {title:'IGFBP2',titleLen:55,v0:10,y0:2456,k:70.6,cats:[1468.5,1727],gridL:1314,gridR:1882,tickX:1302,yTitleX:1284,classX:1598,ticks:igfbp2Ticks,minor:igfbp2Minor,labelDx:[63.5,58.7],labelW:[83,90],
  groups:[{j:igfbp2UhcJitter,v:igfbp2UhcValues,vy:igfbp2UhcViolinY,d:igfbp2UhcDensity,box:igfbp2UhcBox,w:igfbp2UhcWhisker},{j:igfbp2AkiJitter,v:igfbp2AkiValues,vy:igfbp2AkiViolinY,d:igfbp2AkiDensity,box:igfbp2AkiBox,w:igfbp2AkiWhisker}]},
 {title:'CKAP4',titleLen:52,v0:8,y0:2400,k:92.8,cats:[2089,2350],gridL:1931,gridR:2507,tickX:1921,yTitleX:1909,classX:2219,ticks:ckap4Ticks,minor:ckap4Minor,labelDx:[63,65],labelW:[83,82],
  groups:[{j:ckap4UhcJitter,v:ckap4UhcValues,vy:ckap4UhcViolinY,d:ckap4UhcDensity,box:ckap4UhcBox,w:ckap4UhcWhisker},{j:ckap4AkiJitter,v:ckap4AkiValues,vy:ckap4AkiViolinY,d:ckap4AkiDensity,box:ckap4AkiBox,w:ckap4AkiWhisker}]}
];
(function(){
  const g = document.getElementById('panelE');
  violinPlots.forEach(function(p,pi){
    function Y(v){return p.y0+(p.v0-v)*p.k;}
    const gap=p.cats[1]-p.cats[0];
    p.minor.forEach(function(v){
      const l = make(g,'line',{x1:p.gridL,x2:p.gridR,y1:Y(v),y2:Y(v),stroke:'#f4f4f4','stroke-width':1.4});
      
      
    });
    p.ticks.forEach(function(v){
      const l = make(g,'line',{x1:p.gridL,x2:p.gridR,y1:Y(v),y2:Y(v),stroke:'#eeeeee','stroke-width':2.4});
      
      
      const t = make(g,'text',{x:p.tickX,y:Y(v)+4,'text-anchor':'middle','font-size':11,fill:'#888'},String(v));
      
      
    });
    const yt = make(g,'text',{transform:'translate('+p.yTitleX+' '+(2538+p.titleLen/2)+') rotate(-90)','font-size':14,'font-weight':'bold',fill:'#222',textLength:p.titleLen,lengthAdjust:'spacingAndGlyphs'},p.title);
    
    
    const ct = make(g,'text',{x:p.classX,y:2797,'text-anchor':'middle','font-size':14,'font-weight':'bold',fill:'#222'},'Class');
    
    
    p.groups.forEach(function(gr,gi){
      const cx=p.cats[gi];
      const vline = make(g,'line',{x1:cx,x2:cx,y1:2326,y2:2748,stroke:'#eeeeee','stroke-width':1.4});
      
      
      const lab1 = make(g,'text',{x:cx,y:2766,'text-anchor':'middle','font-size':11,fill:'#888'},violinCategories[gi]);
      
      
      const lab2 = make(g,'text',{x:cx,y:2780,'text-anchor':'middle','font-size':11,fill:'#888'},'(n = '+violinCounts[pi][gi]+')');
      
      
      gr.v.forEach(function(val,i){
        const c = make(g,'circle',{cx:cx+gr.j[i]*gap,cy:Y(val),r:5.5,fill:gi===0?'#3aa7f5':'#ff7a80','fill-opacity':.38});
        
        
      });
      const right=gr.vy.map(function(y,i){return [cx+gr.d[i]*gap,Y(y)];});
      const left=gr.vy.map(function(y,i){return [cx-gr.d[i]*gap,Y(y)];}).reverse();
      const d=smooth(right)+'L'+left[0][0]+' '+left[0][1]+smooth(left).replace(/^M[^C]*/,'')+'Z';
      const vio = make(g,'path',{d:d,fill:'none',stroke:'#333','stroke-width':1.5});
      
      
      const wh = make(g,'line',{x1:cx,x2:cx,y1:Y(gr.w[1]),y2:Y(gr.w[0]),stroke:'#666','stroke-width':1.2});
      
      
      const bw=.15*gap;
      const bx = make(g,'rect',{x:cx-bw,y:Y(gr.box[2]),width:2*bw,height:Y(gr.box[0])-Y(gr.box[2]),fill:'none',stroke:'#666','stroke-width':1.6});
      
      
      const md = make(g,'line',{x1:cx-bw,x2:cx+bw,y1:Y(gr.box[1]),y2:Y(gr.box[1]),stroke:'#555','stroke-width':3});
      
      
      const mean=violinMeans[pi][gi], my=Y(mean), lx=cx+p.labelDx[gi], lw=p.labelW[gi];
      const dash = make(g,'line',{x1:cx,x2:lx,y1:my,y2:my,stroke:'#222','stroke-width':2,'stroke-dasharray':'8 3 2 3'});
      
      
      const mc = make(g,'circle',{cx:cx,cy:my,r:9.5,fill:'#a50000'});
      
      
      const lb = make(g,'rect',{x:lx,y:my-13.5,width:lw,height:27,rx:3,fill:'#fff',stroke:'#888','stroke-width':1.2});
      
      
      const lt = make(g,'text',{x:lx+5,y:my+4,'font-size':12,fill:'#333'});
      
      
      make(lt,'tspan',{},'\u03bc\u0302');
      make(lt,'tspan',{dy:3,'font-size':8},'mean');
      make(lt,'tspan',{dy:-3},' = '+mean.toFixed(2));
    });
  });
})();

/* ---------- draw panel F ---------- */
const rocPlots = [
 {name:'PTX3',auc:'AUC:0.9',x0:131,x1:564,gridL:110,gridR:585,lab:101,sens:57,xt:348,tw:252,aw:71,fpr:ptx3RocFpr,tpr:ptx3RocTpr,lx:ptx3BandLowX,ly:ptx3BandLow,ux:ptx3BandUpX,uy:ptx3BandUp},
 {name:'OPN',auc:'AUC:0.920512820512821',x0:777,x1:1210,gridL:756,gridR:1231,lab:748,sens:706,xt:993,tw:245,aw:217,fpr:opnRocFpr,tpr:opnRocTpr,lx:opnBandLowX,ly:opnBandLow,ux:opnBandUpX,uy:opnBandUp},
 {name:'IGFBP2',auc:'AUC:0.923076923076923',x0:1423.9,x1:1856,gridL:1403,gridR:1880,lab:1394,sens:1350,xt:1640,tw:276,aw:217,fpr:igfbp2RocFpr,tpr:igfbp2RocTpr,lx:igfbp2BandLowX,ly:igfbp2BandLow,ux:igfbp2BandUpX,uy:igfbp2BandUp},
 {name:'CKAP4',auc:'AUC:0.987179487179487',x0:2000,x1:2432,gridL:1978,gridR:2455,lab:1970,sens:1926,xt:2216,tw:270,aw:218,fpr:ckap4RocFpr,tpr:ckap4RocTpr,lx:ckap4BandLowX,ly:ckap4BandLow,ux:ckap4BandUpX,uy:ckap4BandUp}
];
(function(){
  const g = document.getElementById('panelF');
  rocPlots.forEach(function(p){
    function X(v){return p.x0+(p.x1-p.x0)*v;}
    function Y(v){return 3573.3-433.5*v;}
    const T=3118.7,B=3592.6;
    rocMinor.forEach(function(v){
      const a = make(g,'line',{x1:X(v),x2:X(v),y1:T,y2:B,stroke:'#f3f3f3','stroke-width':1.2});
      
      
      const b = make(g,'line',{x1:p.gridL,x2:p.gridR,y1:Y(v),y2:Y(v),stroke:'#f3f3f3','stroke-width':1.2});
      
      
    });
    rocTicks.forEach(function(v){
      const a = make(g,'line',{x1:X(v),x2:X(v),y1:T,y2:B,stroke:'#ececec','stroke-width':1.8});
      
      
      const b = make(g,'line',{x1:p.gridL,x2:p.gridR,y1:Y(v),y2:Y(v),stroke:'#ececec','stroke-width':1.8});
      
      
      const tx = make(g,'text',{x:X(v),y:3614,'text-anchor':'middle','font-size':15,fill:'#777'},v.toFixed(2));
      
      
      const ty = make(g,'text',{x:p.lab,y:Y(v)+5.5,'text-anchor':'end','font-size':15,fill:'#777'},v.toFixed(2));
      
      
    });
    const upper=p.ux.map(function(x,i){return X(x)+','+Y(p.uy[i]);});
    const lower=p.lx.map(function(x,i){return X(x)+','+Y(p.ly[i]);}).reverse();
    const band = make(g,'polygon',{points:upper.concat(lower).join(' '),fill:'#d4e6f2'});
    
    
    const diag = make(g,'line',{x1:X(-.044),y1:Y(.952),x2:X(.052),y2:Y(1.049),stroke:'#c8c8c8','stroke-width':1.4,'stroke-dasharray':'9 6'});
    
    
    const pts=p.fpr.map(function(x,i){return X(x)+','+Y(p.tpr[i]);}).join(' ');
    const line = make(g,'polyline',{points:pts,fill:'none',stroke:'#26343f','stroke-width':2.2});
    
    
    const tt = make(g,'text',{x:p.gridL,y:3076,'font-size':20,fill:'#222',textLength:p.tw,lengthAdjust:'spacingAndGlyphs'},'SVM ROC Curves: '+p.name);
    
    
    const au = make(g,'text',{x:p.gridL,y:3104,'font-size':16,fill:'#222',textLength:p.aw,lengthAdjust:'spacingAndGlyphs'},p.auc);
    
    
    const xt = make(g,'text',{x:p.xt,y:3635,'text-anchor':'middle','font-size':17,fill:'#333'},'1-Specificity');
    
    
    const yt = make(g,'text',{transform:'translate('+p.sens+' 3398) rotate(-90)','font-size':17,fill:'#333',textLength:84,lengthAdjust:'spacingAndGlyphs'},'Sensitivity');
    
    
  });
})();
</script>
</body>
</html>
